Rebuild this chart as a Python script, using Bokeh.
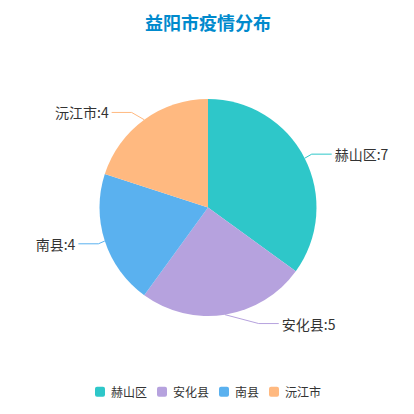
import math
from bokeh.plotting import figure
from bokeh.models import Range1d, ColumnDataSource
from bokeh.core.properties import value
from bokeh.embed import file_html
from bokeh.resources import INLINE

# ---- data ----
chart_title = "益阳市疫情分布"
names = ["赫山区", "安化县", "南县", "沅江市"]
counts = [7, 5, 4, 4]
colors = ["#2ec7c9", "#b6a2de", "#5ab1ef", "#ffb980"]

# ---- layout (screenshot pixels) ----
W = 398
H = 406
FONT = "Noto Sans CJK SC"
CX, CY, R = 207.5, 207.0, 108.5
LEN1, LEN2 = 9.0, 20.0


def Y(py):
    return H - py


p = figure(width=W, height=H, x_range=Range1d(0, W), y_range=Range1d(0, H),
           output_backend="svg", toolbar_location=None, min_border=0,
           x_axis_type=None, y_axis_type=None)
p.grid.visible = False
p.outline_line_color = None
p.background_fill_color = "white"
p.border_fill_color = "white"

# ---- pie ----
total = float(sum(counts))
cum = [0.0]
for c in counts:
    cum.append(cum[-1] + c / total)
starts = [math.pi / 2 - 2 * math.pi * cum[i] for i in range(len(counts))]
ends = [math.pi / 2 - 2 * math.pi * cum[i + 1] for i in range(len(counts))]
src = ColumnDataSource(dict(start=starts, end=ends, color=colors, name=names, count=counts))
p.wedge(x=CX, y=Y(CY), radius=R, start_angle="start", end_angle="end", direction="clock",
        fill_color="color", line_color=None, source=src)

# ---- labels with leader lines ----
R1 = R + LEN1
R2 = R1 + LEN2
for i, (nm, c) in enumerate(zip(names, counts)):
    th = 2 * math.pi * (cum[i] + cum[i + 1]) / 2
    dx, dy = math.sin(th), -math.cos(th)
    ex, ey = CX + R * dx, CY + R * dy
    ly = CY + R1 * dy
    side = 1 if dx >= 0 else -1
    dyl = abs(ly - CY)
    lx = CX + side * math.sqrt(max(R2 * R2 - dyl * dyl, 0))
    endx = lx - side * 3
    elbx = endx - side * LEN2
    p.line([ex, elbx, endx], [Y(ey), Y(ly), Y(ly)], line_color=colors[i], line_width=1)
    p.text(x=[lx], y=[Y(ly)], text=[f"{nm}:{c}"], text_align="left" if side > 0 else "right",
           text_baseline="middle", text_font=value(FONT), text_font_size="14px",
           text_color="#333333")

# ---- title ----
p.text(x=[CX], y=[Y(21.5)], text=[chart_title], text_align="center", text_baseline="middle",
       text_font=value(FONT), text_font_size="18px", text_font_style="bold",
       text_color="#008acd")

# ---- legend ----
SQ, GAP, FS, IGAP = 10, 6, 12, 10
widths = [SQ + GAP + FS * len(n) for n in names]
tot_w = sum(widths) + IGAP * (len(names) - 1)
x0 = CX - tot_w / 2
LY = 391.3
for i, nm in enumerate(names):
    p.rect(x=[x0 + SQ / 2], y=[Y(LY)], width=SQ, height=SQ, fill_color=colors[i],
           line_color=None, border_radius=2)
    p.text(x=[x0 + SQ + GAP], y=[Y(LY)], text=[nm], text_align="left", text_baseline="middle",
           text_font=value(FONT), text_font_size="12px", text_color="#333333")
    x0 += widths[i] + IGAP

open("out.html", "w").write(file_html(p, INLINE))
